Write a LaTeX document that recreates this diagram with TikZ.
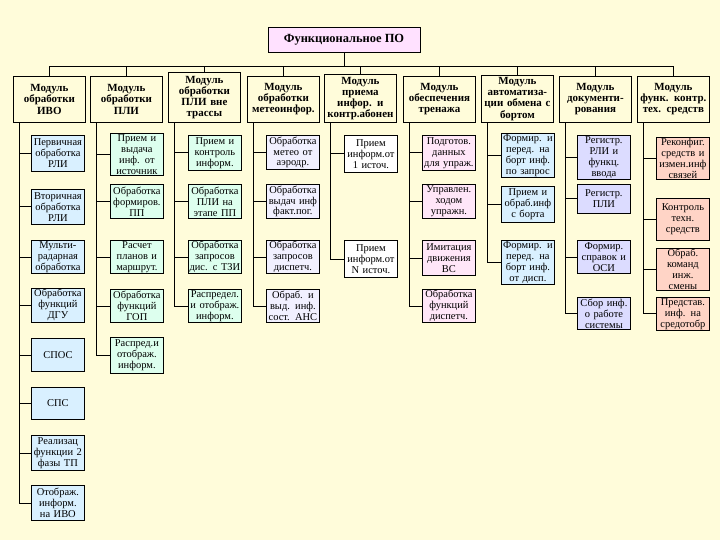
\documentclass[tikz,border=0pt]{standalone}
\usepackage{fontspec}
\setmainfont{Liberation Serif}
\usepackage{tikz}
\usetikzlibrary{positioning,calc}
\definecolor{fonZhelt}{HTML}{FFFCDA}
\definecolor{fonKorn}{HTML}{FFE1FF}
\definecolor{zvGolub}{HTML}{D9F0FF}
\definecolor{zvMyat}{HTML}{DDFFEE}
\definecolor{zvSeryj}{HTML}{F1F0FF}
\definecolor{zvRoz}{HTML}{FFE6F8}
\definecolor{zvSiren}{HTML}{DCDCFF}
\definecolor{zvLosos}{HTML}{FFD4C6}

\begin{document}
\begin{tikzpicture}[
        x=1bp, y=-1bp,
        ln/.style={line width=0.8bp, draw=black},
        topbox/.style={draw, line width=0.8bp, fill=fonKorn, font=\bfseries\fontsize{12.5}{14}\selectfont, minimum width=152bp, minimum height=25bp, inner sep=1bp},
        mod/.style={draw, line width=0.8bp, anchor=north west, align=center, font=\bfseries\fontsize{11}{11.2}\selectfont, text width=70bp, inner sep=1bp, minimum height=#1bp},
        mod/.default=46,
        sub/.style={draw, line width=0.8bp, anchor=north west, align=center, font=\fontsize{10.5}{11}\selectfont, text width=51bp, inner sep=1bp, minimum height=#1bp},
        sub/.default=34
    ]
        % фон и рамка картинки
        \fill[fonZhelt] (0,0) rectangle (720,540);
        \useasboundingbox (0,0) rectangle (720,540);

        % Верхний блок
        \node[topbox] (fpo) at (344,39.5) {Функциональное ПО};

        % Модули (верхний ряд)
        \node[mod] (m1) at (13,76) {Модуль\\обработки\\ИВО};
        \node[mod] (m2) at (90,76) {Модуль\\обработки\\ПЛИ};
        \node[mod=50] (m3) at (168,72) {Модуль\\обработки\\ПЛИ вне\\трассы};
        \node[mod] (m4) at (247,76) {Модуль\\обработки\\метеоинфор.};
        \node[mod=48] (m5) at (324,74) {Модуль\\приема\\инфор. и\\контр.абонен};
        \node[mod] (m6) at (403,76) {Модуль\\обеспечения\\тренажа};
        \node[mod=47] (m7) at (481,75) {Модуль\\автоматиза-\\ции обмена с\\бортом};
        \node[mod] (m8) at (559,76) {Модуль\\документи-\\рования};
        \node[mod] (m9) at (637,76) {Модуль\\функ. контр.\\тех. средств};

        % Шина от верхнего блока к модулям
        \coordinate (bus) at (0,66);
        \draw[ln] (fpo.south) -- (fpo.south |- bus);
        \draw[ln] (m1.north |- bus) -- (m9.north |- bus);
        \foreach \i in {1,...,9}
            \draw[ln] (m\i.north) -- (m\i.north |- bus);

        % Модуль обработки ИВО
        \node[sub=36, fill=zvGolub] (p1a) at (31,135) {Первичная\\обработка\\РЛИ};
        \node[sub=35, fill=zvGolub] (p1b) at (31,189) {Вторичная\\обработка\\РЛИ};
        \node[sub=33, fill=zvGolub] (p1c) at (31,240) {Мульти-\\радарная\\обработка};
        \node[sub=33, fill=zvGolub] (p1d) at (31,288) {Обработка\\функций\\ДГУ};
        \node[sub=33, fill=zvGolub] (p1e) at (31,338) {СПОС};
        \node[sub=32, fill=zvGolub] (p1f) at (31,387) {СПС};
        \node[sub=35, fill=zvGolub] (p1g) at (31,435) {Реализац\\функции 2\\фазы ТП};
        \node[sub=35, fill=zvGolub] (p1h) at (31,485) {Отображ.\\информ.\\на ИВО};

        % Модуль обработки ПЛИ
        \node[sub=38, fill=zvMyat] (p2a) at (110,133) {Прием и\\выдача\\инф. от\\источник};
        \node[sub=34, fill=zvMyat] (p2b) at (110,184) {Обработка\\формиров.\\ПП};
        \node[sub=33, fill=zvMyat] (p2c) at (110,240) {Расчет\\планов и\\маршрут.};
        \node[sub=33, fill=zvMyat] (p2d) at (110,289) {Обработка\\функций\\ГОП};
        \node[sub=36, fill=zvMyat] (p2e) at (110,337) {Распред.и\\отображ.\\информ.};

        % Модуль обработки ПЛИ вне трассы
        \node[sub=35, fill=zvMyat] (p3a) at (188,135) {Прием и\\контроль\\информ.};
        \node[sub=34, fill=zvMyat] (p3b) at (188,184) {Обработка\\ПЛИ на\\этапе ПП};
        \node[sub=33, fill=zvMyat] (p3c) at (188,240) {Обработка\\запросов\\дис. с ТЗИ};
        \node[sub=33, fill=zvMyat] (p3d) at (188,289) {Распредел.\\и отображ.\\информ.};

        % Модуль обработки метеоинформации
        \node[sub=34, fill=zvSeryj] (p4a) at (266,135) {Обработка\\метео от\\аэродр.};
        \node[sub=34, fill=zvSeryj] (p4b) at (266,184) {Обработка\\выдач инф\\факт.пог.};
        \node[sub=33, fill=zvSeryj] (p4c) at (266,240) {Обработка\\запросов\\диспетч.};
        \node[sub=33, fill=zvSeryj] (p4d) at (266,289) {Обраб. и\\выд. инф.\\сост. АНС};

        % Модуль приема информации
        \node[sub=37, fill=white] (p5a) at (344,135) {Прием\\информ.от\\1 источ.};
        \node[sub=37, fill=white] (p5b) at (344,240) {Прием\\информ.от\\N источ.};

        % Модуль обеспечения тренажа
        \node[sub=35, fill=zvRoz] (p6a) at (422,135) {Подготов.\\данных\\для упраж.};
        \node[sub=34, fill=zvRoz] (p6b) at (422,184) {Управлен.\\ходом\\упражн.};
        \node[sub=35, fill=zvRoz] (p6c) at (422,240) {Имитация\\движения\\ВС};
        \node[sub=33, fill=zvRoz] (p6d) at (422,289) {Обработка\\функций\\диспетч.};

        % Модуль автоматизации обмена с бортом
        \node[sub=42, fill=zvGolub] (p7a) at (501,133) {Формир. и\\перед. на\\борт инф.\\по запрос};
        \node[sub=36, fill=zvGolub] (p7b) at (501,186) {Прием и\\обраб.инф\\с борта};
        \node[sub=42, fill=zvGolub] (p7c) at (501,240) {Формир. и\\перед. на\\борт инф.\\от дисп.};

        % Модуль документирования
        \node[sub=40, fill=zvSiren] (p8a) at (577,135) {Регистр.\\РЛИ и\\функц.\\ввода};
        \node[sub=29, fill=zvSiren] (p8b) at (577,184) {Регистр.\\ПЛИ};
        \node[sub=33, fill=zvSiren] (p8c) at (577,240) {Формир.\\справок и\\ОСИ};
        \node[sub=32, fill=zvSiren] (p8d) at (577,297) {Сбор инф.\\о работе\\системы};

        % Модуль функционального контроля
        \node[sub=42, fill=zvLosos] (p9a) at (656,137) {Реконфиг.\\средств и\\измен.инф\\связей};
        \node[sub=42, fill=zvLosos] (p9b) at (656,198) {Контроль\\техн.\\средств};
        \node[sub=39, fill=zvLosos] (p9c) at (656,248) {Обраб.\\команд\\инж.\\смены};
        \node[sub=32, fill=zvLosos] (p9d) at (656,297) {Представ.\\инф. на\\средотобр};

        % Стволы и отводы к подмодулям
        \foreach \b in {a,...,h}
            \draw[ln] ([xshift=6bp]m1.south west) |- (p1\b.west);
        \foreach \b in {a,...,e}
            \draw[ln] ([xshift=6bp]m2.south west) |- (p2\b.west);
        \foreach \c in {3,4,6,8,9}
            \foreach \b in {a,...,d}
                \draw[ln] ([xshift=6bp]m\c.south west) |- (p\c\b.west);
        \foreach \b in {a,b}
            \draw[ln] ([xshift=6bp]m5.south west) |- (p5\b.west);
        \foreach \b in {a,b,c}
            \draw[ln] ([xshift=6bp]m7.south west) |- (p7\b.west);
    \end{tikzpicture}
\end{document}
